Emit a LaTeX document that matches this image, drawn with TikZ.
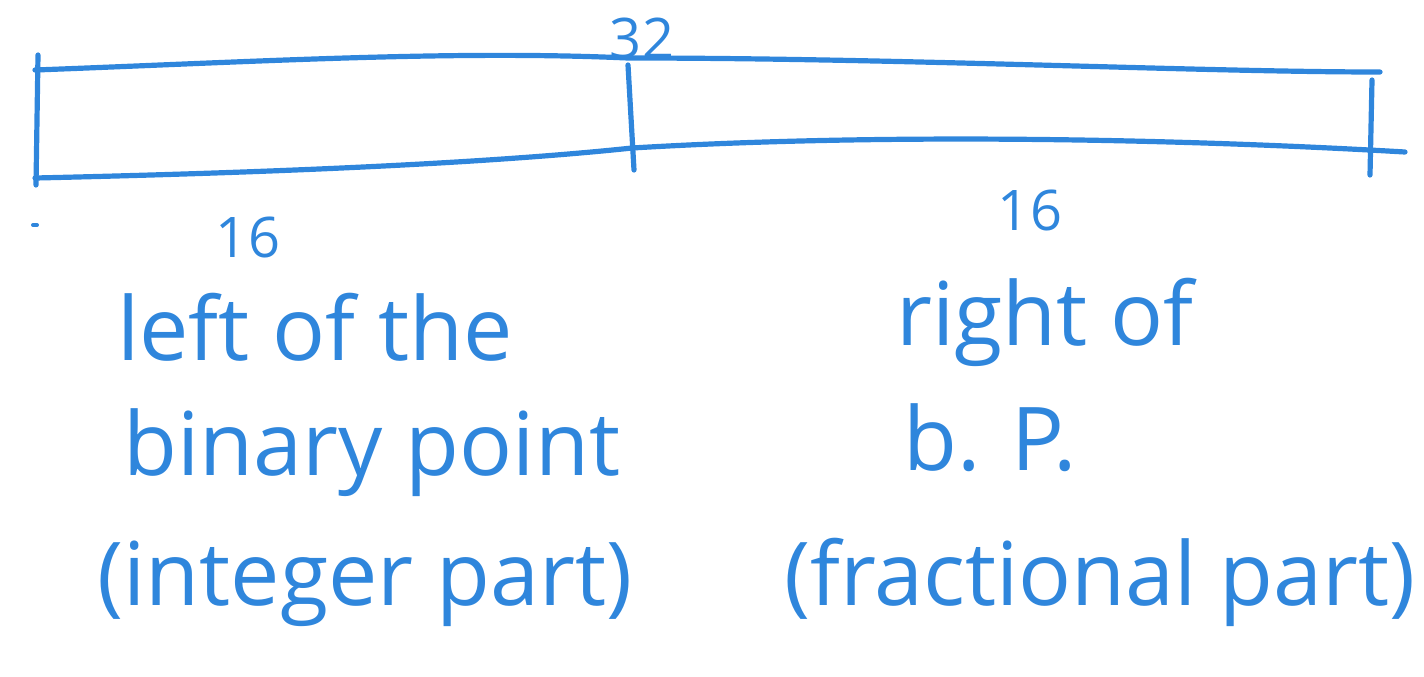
\documentclass[tikz,border=0pt]{standalone}
\usepackage{fontspec}
\setmainfont{Open Sans}
\definecolor{ink}{HTML}{2F86DC}
\begin{document}
\begin{tikzpicture}[x=0.5pt,y=-0.5pt,
  pen/.style={draw=ink,line width=2.6pt,line cap=round,line join=round},
  hand/.style={text=ink,font=\fontsize{44}{48}\selectfont,inner sep=0pt,anchor=base},
  small/.style={text=ink,font=\fontsize{28}{30}\selectfont,inner sep=0pt}]
\useasboundingbox (0,0) rectangle (1424,676);
% bar
\draw[pen] (35,70) .. controls (250,62) and (450,50) .. (628,58) .. controls (900,58) and (1200,72) .. (1380,72);
\draw[pen] (35,178) .. controls (300,172) and (500,162) .. (632,148) .. controls (900,132) and (1200,140) .. (1405,152);
\draw[pen] (38,55) -- (36,185);
\draw[pen] (628,65) -- (634,170);
\draw[pen] (1372,80) -- (1370,175);
% labels
\node[small] (n32) at (642,38) {32};
\node[small] (nl16) at (248,237) {16};
\node[small] (nr16) at (1030,210) {16};
\draw[pen,line width=2pt] (33,225) -- (37,225);
% texts
\node[hand] (l1) at (315,360) {left of the};
\node[hand] (l2) at (372,475) {binary point};
\node[hand] (l3) at (365,605) {(integer part)};
\node[hand] (r1) at (1045,345) {right of};
\node[hand] (r2) at (990,470) {b. P.};
\node[hand] (r3) at (1100,605) {(fractional part)};
\end{tikzpicture}
\end{document}
